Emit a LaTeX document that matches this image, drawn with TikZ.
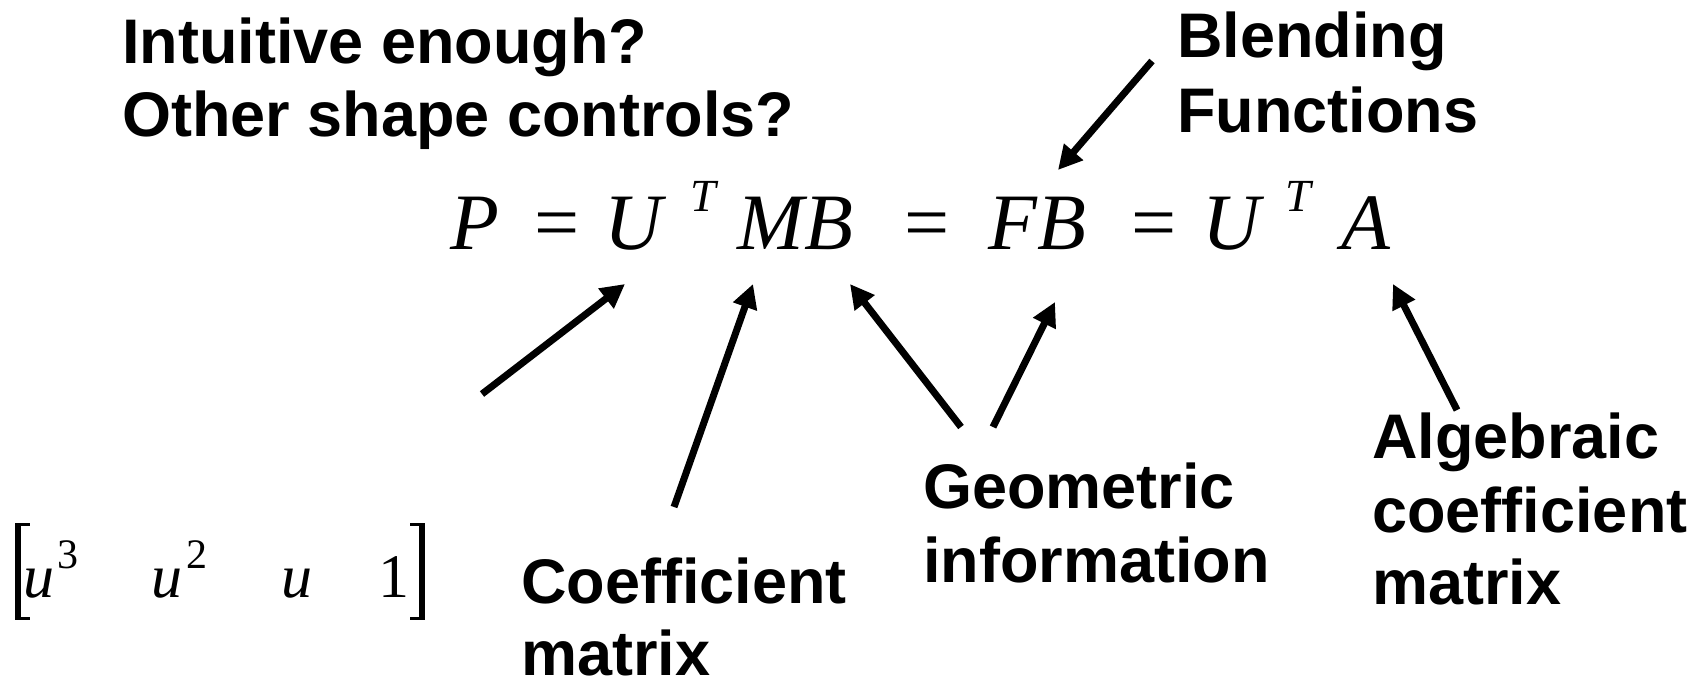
\documentclass[tikz,border=0pt]{standalone}
\usepackage{fontspec}
\setmainfont{Liberation Serif}
\newfontfamily\lab{Liberation Sans}
\usetikzlibrary{arrows.meta}
\begin{document}
\begin{tikzpicture}[x=0.5pt,y=-0.5pt,
  lbl/.style={anchor=base west, inner sep=0pt, font=\lab\bfseries\fontsize{31.5}{37}\selectfont},
  eqit/.style={anchor=base west, inner sep=0pt, font=\fontsize{40}{45}\selectfont\itshape},
  eqop/.style={anchor=base, inner sep=0pt, font=\fontsize{40}{45}\selectfont},
  supT/.style={anchor=base west, inner sep=0pt, font=\fontsize{23}{26}\selectfont\itshape},
  rowit/.style={anchor=base west, inner sep=0pt, font=\fontsize{31}{36}\selectfont\itshape},
  rowup/.style={anchor=base west, inner sep=0pt, font=\fontsize{31}{36}\selectfont},
  rowsup/.style={anchor=base west, inner sep=0pt, font=\fontsize{21}{24}\selectfont},
  arr/.style={line width=3.5pt, -{Triangle[length=12pt,width=12pt]}}]
\fill[white] (0,0) rectangle (1706,681);
\useasboundingbox (0,0) rectangle (1706,681);

% labels
\node[lbl] (int1) at (122,63) {Intuitive enough?};
\node[lbl] (int2) at (122,136) {Other shape controls?};
\node[lbl] (blend1) at (1177,57) {Blending};
\node[lbl] (blend2) at (1177,132) {Functions};
\node[lbl] (geo1) at (923,508) {Geometric};
\node[lbl] (geo2) at (923,582) {information};
\node[lbl] (coef1) at (521,603) {Coefficient};
\node[lbl] (coef2) at (521,675) {matrix};
\node[lbl] (alg1) at (1372,458) {Algebraic};
\node[lbl] (alg2) at (1372,532) {coefficient};
\node[lbl] (alg3) at (1372,604) {matrix};

% equation
\node[eqit] (P) at (450,249) {P};
\node[eqop] (eq1) at (557,249) {=};
\node[eqit] (U1) at (604,249) {U};
\node[supT] (T1) at (690,211) {T};
\node[eqit] (MB) at (737,249) {MB};
\node[eqop] (eq2) at (927,249) {=};
\node[eqit] (FB) at (988,249) {FB};
\node[eqop] (eq3) at (1154,249) {=};
\node[eqit] (U2) at (1202,249) {U};
\node[supT] (T2) at (1285,211) {T};
\node[eqit] (A) at (1341,249) {A};

% row vector
\node[rowit] (u3) at (23,597) {u};
\node[rowsup] (s3) at (57,568) {3};
\node[rowit] (u2) at (151,597) {u};
\node[rowsup] (s2) at (186,568) {2};
\node[rowit] (u1) at (281,597) {u};
\node[rowup] (one) at (378,597) {1};
\fill (15,523) rectangle (21,620);
\fill (15,523) rectangle (30,526);
\fill (15,617) rectangle (30,620);
\fill (419,523) rectangle (425,620);
\fill (410,523) rectangle (425,526);
\fill (410,617) rectangle (425,620);

% arrows
\coordinate (t1) at (482,394); \coordinate (h1) at (625,284);
\coordinate (t2) at (674,507); \coordinate (h2) at (753,284);
\coordinate (t3) at (961,427); \coordinate (h3) at (850,284);
\coordinate (t4) at (993,427); \coordinate (h4) at (1055,302);
\coordinate (t5) at (1152,61); \coordinate (h5) at (1058,170);
\coordinate (t6) at (1457,410); \coordinate (h6) at (1393,284);
\draw[arr] (t1) -- (h1);
\draw[arr] (t2) -- (h2);
\draw[arr] (t3) -- (h3);
\draw[arr] (t4) -- (h4);
\draw[arr] (t5) -- (h5);
\draw[arr] (t6) -- (h6);
\end{tikzpicture}
\end{document}
